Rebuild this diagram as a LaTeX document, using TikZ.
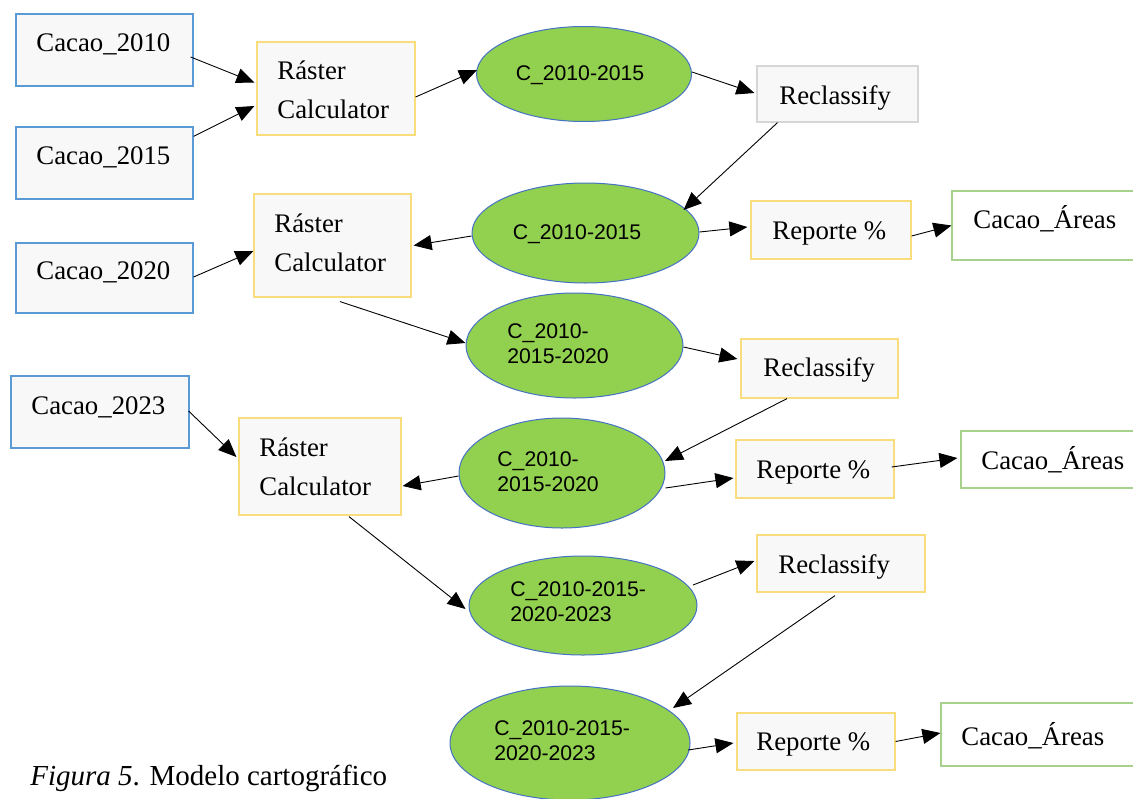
\documentclass[tikz,border=0pt]{standalone}
\usepackage{fontspec}
\setmainfont{Liberation Serif}
\newfontfamily\arialf{Liberation Sans}
\usetikzlibrary{arrows.meta,calc,shapes.geometric}
\definecolor{bxblue}{HTML}{5B9BD5}
\definecolor{bxyel}{HTML}{F9DC7C}
\definecolor{bxgray}{HTML}{D6D6D6}
\definecolor{bxgreen}{HTML}{A9D18E}
\definecolor{bxfill}{HTML}{F8F8F8}
\definecolor{elfill}{HTML}{92D050}
\definecolor{elline}{HTML}{4472C4}
\tikzset{
  sz/.style 2 args={minimum width=#1*0.5pt, minimum height=#2*0.5pt},
  box/.style={draw, rectangle, fill=bxfill, line width=0.6pt, inner sep=0pt},
  inbox/.style={box, draw=bxblue},
  ybox/.style={box, draw=bxyel},
  gbox/.style={box, draw=bxgray},
  abox/.style={box, draw=bxgreen, fill=white},
  ell/.style={draw=elline, fill=elfill, ellipse, line width=0.5pt, inner sep=0pt},
  tnr/.style={inner sep=0pt, font=\fontsize{13.4}{19.5}\selectfont, anchor=base west},
  rast/.style={inner sep=0pt, font=\fontsize{13.4}{19.5}\selectfont, align=left, anchor=west},
  etx/.style={inner sep=0pt, font=\arialf\fontsize{10.6}{12.5}\selectfont, anchor=base},
  etx2/.style={inner sep=0pt, font=\arialf\fontsize{10.6}{12.5}\selectfont, align=left, anchor=west},
  arr/.style={-{Triangle[length=9pt,width=7.5pt]}, line width=0.45pt, black}
}
\begin{document}
\begin{tikzpicture}[x=0.5pt,y=-0.5pt]
\useasboundingbox (0,0) rectangle (1133,798);
\fill[white] (0,0) rectangle (1133,798);
\clip (0,0) rectangle (1133,798);

% input boxes
\node[inbox, sz={177}{72}] (c2010) at (104.5,50) {};
\node[tnr] (t2010) at (36,51) {Cacao\_2010};
\node[inbox, sz={177}{72}] (c2015) at (104.5,163) {};
\node[tnr] (t2015) at (36,164) {Cacao\_2015};
\node[inbox, sz={177}{70}] (c2020) at (104.5,278) {};
\node[tnr] (t2020) at (36,279) {Cacao\_2020};
\node[inbox, sz={178}{72}] (c2023) at (100,412) {};
\node[tnr] (t2023) at (31,414) {Cacao\_2023};

% raster calculators
\node[ybox, sz={158}{93}] (rc1) at (336,88.5) {};
\node[rast] (trc1) at (277,90) {Ráster\\Calculator};
\node[ybox, sz={157}{103}] (rc2) at (332.5,245.5) {};
\node[rast] (trc2) at (274,243) {Ráster\\Calculator};
\node[ybox, sz={162}{97}] (rc3) at (320,466.5) {};
\node[rast] (trc3) at (259,467) {Ráster\\Calculator};

% ellipses
\node[ell, sz={215}{95}] (e1) at (584,74) {};
\node[etx] (te1) at (580,80.5) {C\_2010-2015};
\node[ell, sz={227}{100}] (e2) at (585.5,233) {};
\node[etx] (te2) at (577,239.5) {C\_2010-2015};
\node[ell, sz={217}{105}] (e3) at (574.5,345.5) {};
\node[etx2] (te3) at (507,343.5) {C\_2010-\\2015-2020};
\node[ell, sz={206}{110}] (e4) at (562,473) {};
\node[etx2] (te4) at (497,471.5) {C\_2010-\\2015-2020};
\node[ell, sz={228}{99}] (e5) at (583,605.5) {};
\node[etx2] (te5) at (510,602) {C\_2010-2015-\\2020-2023};
\node[ell, sz={240}{114}] (e6) at (570,743) {};
\node[etx2] (te6) at (494,741) {C\_2010-2015-\\2020-2023};

% reclassify
\node[gbox, sz={161}{56}] (recA) at (837.5,94) {};
\node[tnr] (trecA) at (779,104) {Reclassify};
\node[ybox, sz={157}{59}] (recB) at (819.5,368.5) {};
\node[tnr] (trecB) at (763,376) {Reclassify};
\node[ybox, sz={168}{57}] (recC) at (841,563.5) {};
\node[tnr] (trecC) at (778,573) {Reclassify};

% reporte
\node[ybox, sz={160}{58}] (repA) at (831,230) {};
\node[tnr] (trepA) at (772,239) {Reporte \%};
\node[ybox, sz={158}{58}] (repB) at (815,469) {};
\node[tnr] (trepB) at (756,478) {Reporte \%};
\node[ybox, sz={158}{57}] (repC) at (816,741.5) {};
\node[tnr] (trepC) at (756,750) {Reporte \%};

% areas
\node[abox, sz={193}{69}] (arA) at (1048.5,225.5) {};
\node[tnr] (tarA) at (973,228) {Cacao\_Áreas};
\node[abox, sz={184}{57}] (arB) at (1053,459.5) {};
\node[tnr] (tarB) at (981,469) {Cacao\_Áreas};
\node[abox, sz={204}{63}] (arC) at (1043,734.5) {};
\node[tnr] (tarC) at (961,745) {Cacao\_Áreas};

% caption
\node[inner sep=0pt, anchor=base west, font=\fontsize{14.5}{17}\selectfont] (cap) at (30,785) {\textit{Figura 5}. Modelo cartográfico};

% connectors
\draw[arr] ($(c2010.east)+(-3,7)$) -- ($(rc1.west)+(-2,-6)$);
\draw[arr] ($(c2015.north east)+(0,10)$) -- ($(rc1.west)+(-2,17.5)$);
\draw[arr] ($(rc1.east)+(0,8.5)$) -- ($(e1.west)+(1,-4)$);
\draw[arr] ($(e1.east)+(0,-2)$) -- ($(recA.west)+(-2,-1)$);
\draw[arr] ($(recA.south)+(-60,0)$) -- ($(e2.center)+(98,-23)$);
\draw[arr] ($(e2.west)+(0,3)$) -- ($(rc2.east)+(2,0)$);
\draw[arr] ($(e2.east)+(0,-1)$) -- ($(repA.west)+(-3,-3)$);
\draw[arr] ($(repA.east)+(0,6)$) -- ($(arA.west)+(0,0)$);
\draw[arr] ($(c2020.east)+(0,-1)$) -- ($(rc2.west)+(0,5.5)$);
\draw[arr] ($(rc2.south)+(7.5,4)$) -- ($(e3.west)+(0,-2.5)$);
\draw[arr] ($(e3.east)+(0,1.5)$) -- ($(recB.west)+(-3,-9.5)$);
\draw[arr] ($(recB.south)+(-32.5,0)$) -- ($(e4.center)+(103,-12)$);
\draw[arr] ($(e4.west)+(0,3)$) -- ($(rc3.east)+(1,19.5)$);
\draw[arr] ($(e4.east)+(0,15)$) -- ($(repB.west)+(-2,9)$);
\draw[arr] ($(repB.east)+(-3,-2)$) -- ($(arB.west)+(-3,-1.5)$);
\draw[arr] ($(c2023.east)+(-1,-1)$) -- ($(rc3.west)+(-2,-9.5)$);
\draw[arr] ($(rc3.south)+(29,1)$) -- ($(e5.west)+(-3,3.5)$);
\draw[arr] ($(e5.center)+(110,-20.5)$) -- ($(recC.west)+(-2,-2.5)$);
\draw[arr] ($(recC.south)+(-6,3)$) -- ($(e6.center)+(103,-35)$);
\draw[arr] ($(e6.center)+(118,7)$) -- ($(repC.west)+(-3,1.5)$);
\draw[arr] ($(repC.east)+(0,0)$) -- ($(arC.west)+(0,-1.5)$);
\end{tikzpicture}
\end{document}
